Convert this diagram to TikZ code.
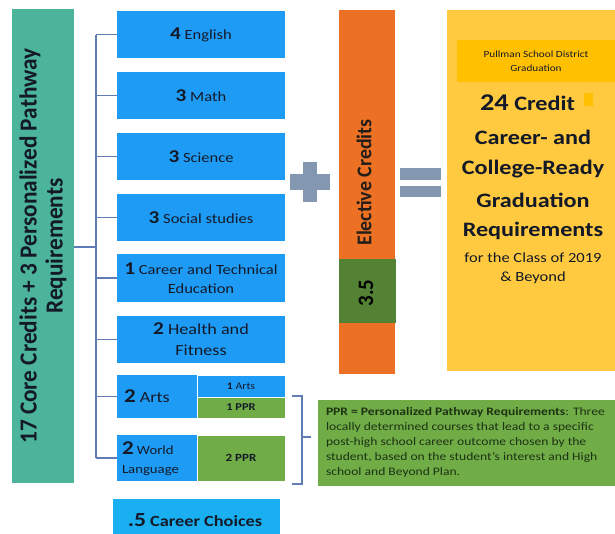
\documentclass[tikz,border=0pt]{standalone}
\usepackage{fontspec}
\setmainfont{Carlito}[FakeStretch=1.18]
\newfontfamily\rotfont{Carlito}[FakeStretch=0.95]
\definecolor{cblue}{RGB}{30,155,245}
\definecolor{cteal}{RGB}{75,180,155}
\definecolor{ccyan}{RGB}{25,175,240}
\definecolor{corange}{RGB}{236,113,36}
\definecolor{dgreen}{RGB}{84,130,53}
\definecolor{lgreen}{RGB}{112,173,71}
\definecolor{cyellow}{RGB}{255,202,64}
\definecolor{cgold}{RGB}{255,192,0}
\definecolor{csign}{RGB}{132,151,176}
\definecolor{linec}{RGB}{95,125,180}
\definecolor{txt}{RGB}{20,25,40}
\definecolor{pprtxt}{RGB}{30,50,20}
\newcommand{\fs}[2]{\fontsize{#1}{#2}\selectfont}
\newcommand{\Num}[1]{{\bfseries\fs{18}{18}#1}}
\begin{document}
\begin{tikzpicture}[x=1pt,y=-1pt,
  box/.style={rectangle,inner sep=0pt,outer sep=0pt,align=center,text=txt},
  bluebox/.style={box,fill=cblue,minimum width=168pt,font=\fs{14}{19}},
  conn/.style={draw=linec,line width=1.4pt},
  bigline/.style={box,font=\bfseries\fs{20.5}{24}},
]
\useasboundingbox[fill=white] (0,0) rectangle (615,533);

% left teal block
\node[box,fill=cteal,minimum width=62pt,minimum height=474pt] (core) at (43,246) {};
\node[box,rotate=90,font=\rotfont\bfseries\fs{24.5}{26}] (coret) at (43,246) {17 Core Credits + 3 Personalized Pathway\\Requirements};

% blue course boxes
\node[bluebox,minimum height=47pt] (eng) at (201,34.5) {\Num{4} English};
\node[bluebox,minimum height=47pt] (math) at (201,95.5) {\Num{3} Math};
\node[bluebox,minimum height=47pt] (sci) at (201,156.5) {\Num{3} Science};
\node[bluebox,minimum height=47pt] (soc) at (201,217.5) {\Num{3} Social studies};
\node[bluebox,minimum height=48pt] (cte) at (201,278) {\Num{1} Career and Technical\\Education};
\node[bluebox,minimum height=47pt,font=\fs{15.4}{21}] (hf) at (201,339.5) {\Num{2} Health and\\Fitness};

% arts row
\node[box,fill=cblue,minimum width=80pt,minimum height=43pt] (arts) at (157,396.5) {};
\node[box,anchor=west,font=\fs{15.4}{18}] (artst) at (124,396.5) {{\bfseries\fs{19.5}{19}2} Arts};
\node[box,fill=cblue,draw=white,line width=0.6pt,minimum width=88pt,minimum height=22pt,font=\fs{10}{12}] (artsa) at (241,386) {\textbf{1} Arts};
\node[box,fill=lgreen,draw=white,line width=0.6pt,minimum width=88pt,minimum height=21pt,font=\bfseries\fs{10.5}{12}] (artsp) at (241,407.5) {1 PPR};

% world language row
\node[box,fill=cblue,minimum width=80pt,minimum height=46pt] (wl) at (157,458) {};
\node[box,anchor=west,align=left,font=\fs{12.5}{19}] (wlt) at (122,459) {{\bfseries\fs{19.5}{19}2} World\\Language};
\node[box,fill=lgreen,draw=white,line width=0.6pt,minimum width=88pt,minimum height=46pt,font=\bfseries\fs{11}{12}] (wlp) at (241,458) {2 PPR};

% career choices
\node[box,fill=ccyan,minimum width=167pt,minimum height=40pt] (cc) at (196.5,519) {};
\node[box,font=\bfseries\fs{15.5}{18}] (cct) at (195,520) {{\fs{20}{20}.5} Career Choices};

% tree connectors
\coordinate (sp) at (96,247);
\draw[conn] (core.east |- sp) -- (sp);
\draw[conn] (eng.west -| sp) -- (wl.west -| sp);
\foreach \n in {eng,math,sci,soc,cte,hf,arts,wl}
  \draw[conn] (\n.west -| sp) -- (\n.west);

% PPR bracket
\coordinate (bt) at (292,396);
\coordinate (bb) at (292,484);
\coordinate (bm) at (302,437);
\coordinate (bm2) at (311,437);
\draw[conn] (bt) -- (bt -| bm) -- (bb -| bm) -- (bb);
\draw[conn] (bm) -- (bm2);

% plus sign
\fill[csign] (290,174) rectangle (330,190);
\fill[csign] (303,162) rectangle (317,202);

% elective credits bar
\node[box,fill=corange,minimum width=56pt,minimum height=364pt] (elec) at (367,192) {};
\node[box,rotate=90,font=\rotfont\bfseries\fs{21}{22},text={rgb,255:red,35;green,30;blue,25}] (elect) at (364,182.5) {Elective Credits};
\node[box,fill=dgreen,minimum width=57pt,minimum height=64pt] (e35) at (367.5,291) {};
\node[box,rotate=90,font=\rotfont\bfseries\fs{22}{22},text=black] (e35t) at (366,293) {3.5};

% equals sign
\fill[csign] (400,168) rectangle (441,180);
\fill[csign] (400,186) rectangle (441,197);

% result box
\node[box,fill=cyellow,minimum width=168pt,minimum height=361pt] (res) at (531,190.5) {};
\node[box,fill=cgold,minimum width=158pt,minimum height=42pt,font=\fs{9.5}{14}] (hdr) at (536,61) {Pullman School District\\Graduation};
\node[box,fill=cgold,minimum width=9pt,minimum height=13pt] (sq) at (588.5,99.5) {};
\node[bigline] (r1) at (527.5,103) {{\fs{24}{24}24} Credit};
\node[bigline] (r2) at (533,137) {Career- and};
\node[bigline] (r3) at (533,169) {College-Ready};
\node[bigline] (r4) at (533,200) {Graduation};
\node[bigline] (r5) at (533,231) {Requirements};
\node[box,font=\fs{14}{20}] (r6) at (533,258) {for the Class of 2019};
\node[box,font=\fs{14}{20}] (r7) at (533,278) {\& Beyond};

% PPR explanation
\node[box,fill=lgreen,minimum width=297pt,minimum height=86pt] (ppr) at (466.5,443) {};
\node[box,anchor=west,align=left,text=pprtxt,font=\fs{11.5}{15}] (pprt) at (326,442) {\textbf{PPR = Personalized Pathway Requirements}: Three\\locally determined courses that lead to a specific\\post-high school career outcome chosen by the\\student, based on the student’s interest and High\\school and Beyond Plan.};
\end{tikzpicture}
\end{document}
